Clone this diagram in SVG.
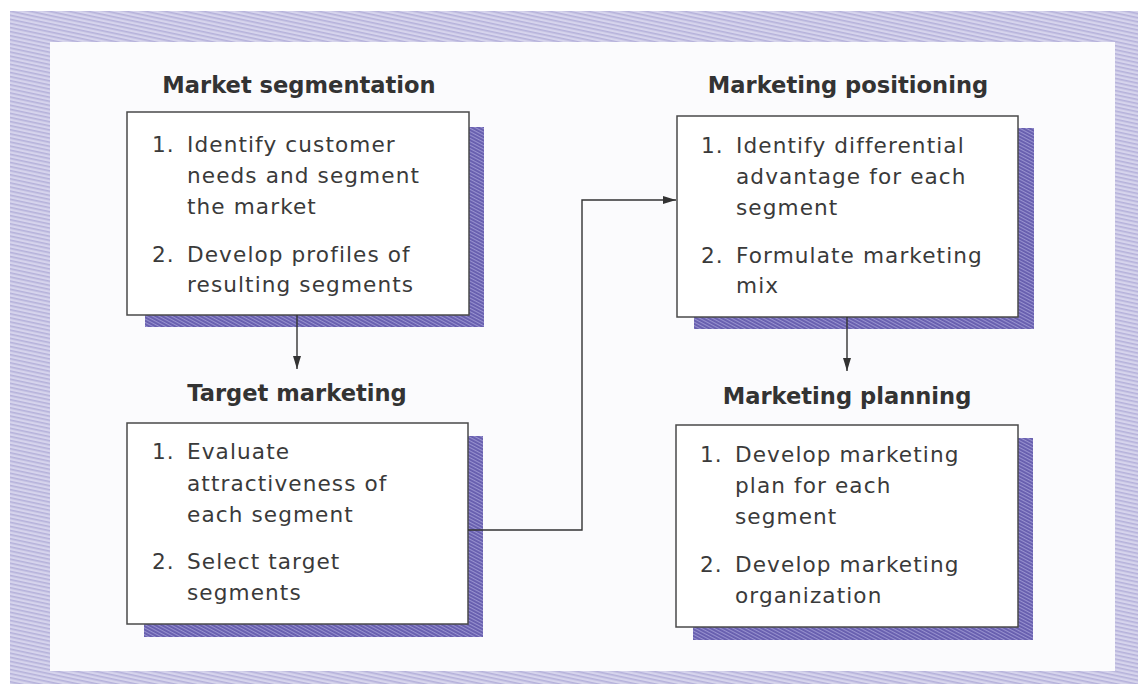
<svg xmlns="http://www.w3.org/2000/svg" width="1138" height="684" viewBox="0 0 1138 684">
  <defs>
    <!-- light lavender stripes for the outer frame -->
    <pattern id="frameHatch" patternUnits="userSpaceOnUse" width="12" height="4" patternTransform="rotate(12)">
      <rect width="12" height="4" fill="#d6d4ec"/>
      <rect width="12" height="1.6" fill="#b5b1db"/>
    </pattern>
    <!-- dark purple stripes for the drop shadows -->
    <pattern id="shadowHatch" patternUnits="userSpaceOnUse" width="8" height="3" patternTransform="rotate(28)">
      <rect width="8" height="3" fill="#665dae"/>
      <rect width="8" height="1.1" fill="#9892cf"/>
    </pattern>
    <marker id="arrow" markerWidth="13" markerHeight="8" refX="13" refY="4" orient="auto" markerUnits="userSpaceOnUse">
      <path d="M0,0 L13,4 L0,8 Z" fill="#333"/>
    </marker>
  </defs>
  <style>
    .shadow { fill: url(#shadowHatch); }
    .box { fill: #ffffff; stroke: #4a4a4a; stroke-width: 1.5; }
    .title { font-family: "DejaVu Sans", "Liberation Sans", sans-serif; font-weight: bold; font-size: 22.6px; fill: #333; text-anchor: middle; }
    .body { font-family: "DejaVu Sans", "Liberation Sans", sans-serif; font-size: 21.6px; letter-spacing: 1.1px; fill: #3a3a3a; }
    .link { fill: none; stroke: #333; stroke-width: 1.4; }
  </style>

  <!-- page frame -->
  <rect x="0" y="0" width="1138" height="684" fill="#ffffff"/>
  <rect x="10" y="11" width="1128" height="673" fill="url(#frameHatch)"/>
  <rect x="50" y="42" width="1065" height="629" fill="#fbfbfd"/>

  <!-- Market segmentation -->
  <g id="market-segmentation">
    <text class="title" x="299" y="93">Market segmentation</text>
    <rect class="shadow" x="145" y="127" width="339" height="200"/>
    <rect class="box" x="127" y="112" width="342" height="203"/>
    <text class="body" y="152"><tspan x="152">1.</tspan> <tspan x="187">Identify customer</tspan></text>
    <text class="body" x="187" y="183">needs and segment</text>
    <text class="body" x="187" y="214">the market</text>
    <text class="body" y="262"><tspan x="152">2.</tspan> <tspan x="187">Develop profiles of</tspan></text>
    <text class="body" x="187" y="292">resulting segments</text>
  </g>

  <!-- Target marketing -->
  <g id="target-marketing">
    <text class="title" x="297" y="401">Target marketing</text>
    <rect class="shadow" x="144" y="436" width="339" height="201"/>
    <rect class="box" x="127" y="423" width="341" height="201"/>
    <text class="body" y="459"><tspan x="152">1.</tspan> <tspan x="187">Evaluate</tspan></text>
    <text class="body" x="187" y="491">attractiveness of</text>
    <text class="body" x="187" y="522">each segment</text>
    <text class="body" y="569"><tspan x="152">2.</tspan> <tspan x="187">Select target</tspan></text>
    <text class="body" x="187" y="600">segments</text>
  </g>

  <!-- Marketing positioning -->
  <g id="marketing-positioning">
    <text class="title" x="848" y="93">Marketing positioning</text>
    <rect class="shadow" x="694" y="128" width="340" height="201"/>
    <rect class="box" x="677" y="116" width="341" height="201"/>
    <text class="body" y="153"><tspan x="701">1.</tspan> <tspan x="736">Identify differential</tspan></text>
    <text class="body" x="736" y="184">advantage for each</text>
    <text class="body" x="736" y="215">segment</text>
    <text class="body" y="263"><tspan x="701">2.</tspan> <tspan x="736">Formulate marketing</tspan></text>
    <text class="body" x="736" y="293">mix</text>
  </g>

  <!-- Marketing planning -->
  <g id="marketing-planning">
    <text class="title" x="847" y="404">Marketing planning</text>
    <rect class="shadow" x="693" y="438" width="340" height="202"/>
    <rect class="box" x="676" y="425" width="342" height="202"/>
    <text class="body" y="462"><tspan x="700">1.</tspan> <tspan x="735">Develop marketing</tspan></text>
    <text class="body" x="735" y="493">plan for each</text>
    <text class="body" x="735" y="524">segment</text>
    <text class="body" y="572"><tspan x="700">2.</tspan> <tspan x="735">Develop marketing</tspan></text>
    <text class="body" x="735" y="603">organization</text>
  </g>

  <!-- connectors -->
  <g id="connectors">
    <path class="link" d="M297,315 L297,369" marker-end="url(#arrow)"/>
    <path class="link" d="M468,530 L582,530 L582,200 L676,200" marker-end="url(#arrow)"/>
    <path class="link" d="M847,317 L847,371" marker-end="url(#arrow)"/>
  </g>
</svg>
